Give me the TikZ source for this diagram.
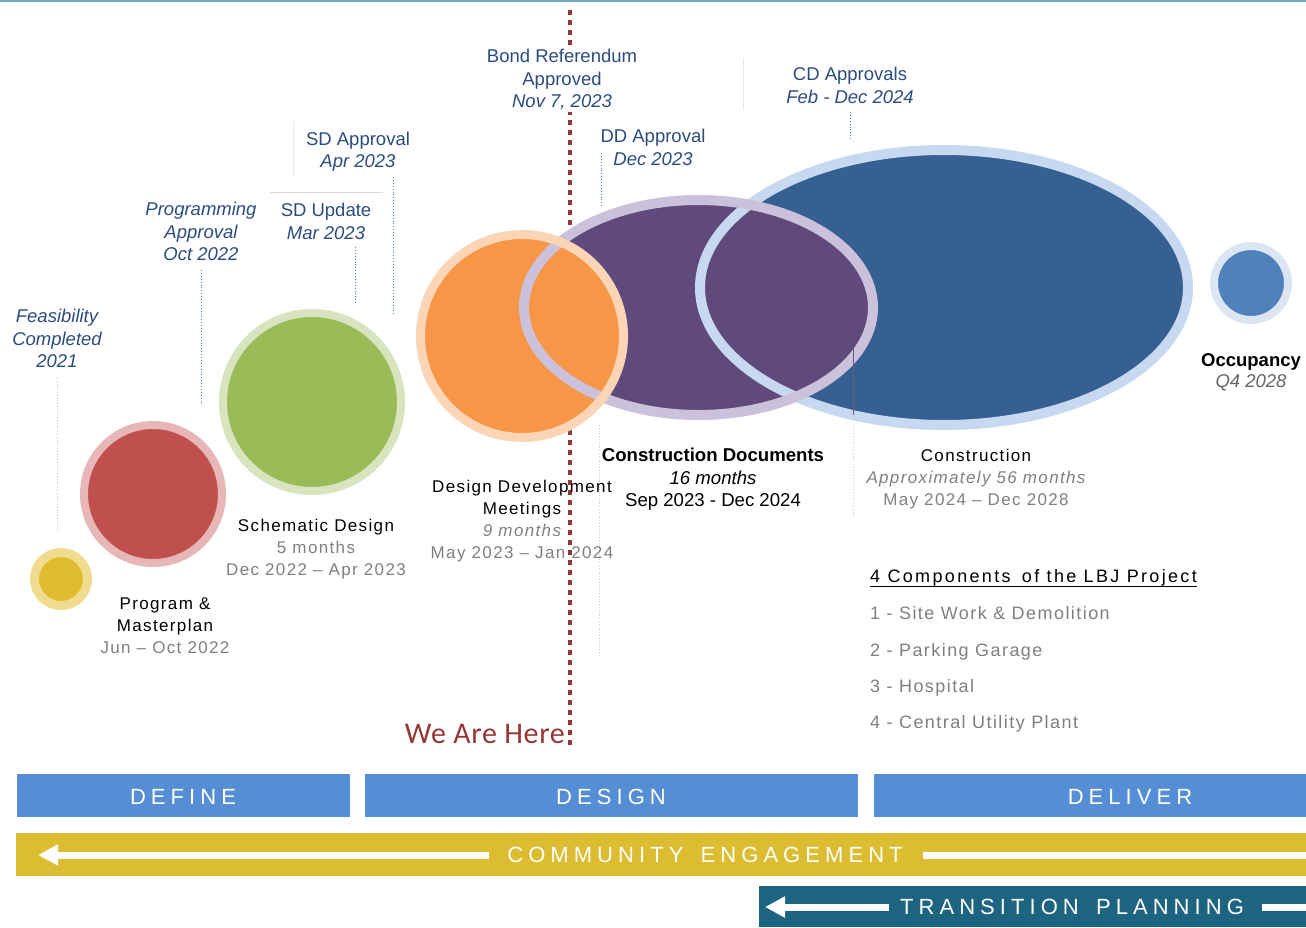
\documentclass[tikz,border=0pt]{standalone}
\usepackage{fontspec}
\setmainfont{Liberation Sans}
\newfontfamily\trackfont[LetterSpace=8]{Liberation Sans}
\newfontfamily\headfont[LetterSpace=13]{Liberation Sans}
\newfontfamily\barfont[LetterSpace=23]{Liberation Sans}
\newfontfamily\herefont[LetterSpace=2]{Carlito}
\usetikzlibrary{arrows.meta}

\definecolor{topline}{HTML}{70A8B8}
\definecolor{milestone}{HTML}{2B4C7E}
\definecolor{leaderblue}{HTML}{4F81BD}
\definecolor{faintgray}{HTML}{D9D9D9}
\definecolor{phasegray}{HTML}{7F7F7F}
\definecolor{herered}{HTML}{953735}
\definecolor{yelIn}{HTML}{DFBB2E}
\definecolor{yelOut}{HTML}{EFDC8F}
\definecolor{redIn}{HTML}{C0504D}
\definecolor{redOut}{HTML}{E6B7B6}
\definecolor{grnIn}{HTML}{9BBB59}
\definecolor{grnOut}{HTML}{D7E4BD}
\definecolor{orgIn}{HTML}{F79646}
\definecolor{orgOut}{HTML}{FBD5B5}
\definecolor{purIn}{HTML}{604A7B}
\definecolor{purOut}{HTML}{CCC1DA}
\definecolor{bluIn}{HTML}{366092}
\definecolor{bluOut}{HTML}{C6D9F1}
\definecolor{occIn}{HTML}{4F81BD}
\definecolor{occOut}{HTML}{DCE6F2}
\definecolor{bandblue}{HTML}{558ED5}
\definecolor{bandyellow}{HTML}{DCBC30}
\definecolor{bandteal}{HTML}{1D6480}

\begin{document}
\begin{tikzpicture}[x=1pt,y=-1pt,
  milestone/.style={text=milestone, font=\fontsize{18.5}{22.5}\selectfont, align=center, inner sep=0pt},
  phase/.style={text=black, font=\trackfont\fontsize{17}{22}\selectfont, align=center, inner sep=0pt},
  cdphase/.style={text=black, font=\fontsize{18.6}{22.5}\selectfont, align=center, inner sep=0pt},
  legend/.style={text=phasegray, font=\trackfont\fontsize{18}{20}\selectfont, anchor=base west, inner sep=0pt},
  leader/.style={draw=leaderblue, dotted, line width=0.9pt},
  faintdot/.style={draw=faintgray!80!gray, dotted, line width=0.8pt},
  faint/.style={draw=faintgray, line width=0.8pt},
  band/.style={text=white, font=\barfont\fontsize{22}{22}\selectfont, inner sep=0pt},
  bandarrow/.style={draw=white, line width=7pt, -{Triangle[width=20pt,length=20pt]}},
  bandline/.style={draw=white, line width=7pt}
]
\useasboundingbox (0,0) rectangle (1306,927);

% thin rule along the top edge
\draw[topline, line width=1.5pt] (0,0.75) -- (1306,0.75);

% "we are here" marker line, behind the phase bubbles
\coordinate (hereTop) at (570,10);
\coordinate (hereBot) at (570,745);
\draw[herered, line width=4pt, dash pattern=on 5pt off 5pt] (hereTop) -- (hereBot);

% phase bubbles: fills first, overlapping right to left
\fill[yelIn] (61,579) circle (26.5);
\fill[redIn] (153,494) circle (69);
\fill[grnIn] (312,402) circle (89);
\fill[bluIn] (944,287.5) ellipse [x radius=244, y radius=137.5];
\fill[purIn] (698.5,307.5) ellipse [x radius=174.5, y radius=107.5];
\fill[orgIn] (522,336) circle (101.5);
\fill[occIn] (1251,283) circle (37);
% bubble rims
\draw[yelOut, line width=9pt] (61,579) circle (26.5);
\draw[redOut, line width=8pt] (153,494) circle (69);
\draw[grnOut, line width=8pt] (312,402) circle (89);
\draw[bluOut, line width=10pt] (944,287.5) ellipse [x radius=244, y radius=137.5];
\draw[purOut, line width=10pt] (698.5,307.5) ellipse [x radius=174.5, y radius=107.5];
\draw[orgOut, line width=9pt] (522,336) circle (101.5);
\draw[occOut, line width=8pt] (1251,283) circle (37);

% milestone labels
\node[milestone] (feas) at (57,338.5) {\itshape Feasibility\\\itshape Completed\\\itshape 2021};
\node[milestone] (prog) at (201,231.5) {\itshape Programming\\\itshape Approval\\\itshape Oct 2022};
\node[milestone] (sdu) at (326,221.5) {SD Update\\\itshape Mar 2023};
\node[milestone] (sda) at (358,151.5) {SD Approval\\\itshape Apr 2023};
\node[milestone, fill=white, inner sep=2pt] (bond) at (562,79.5) {Bond Referendum\\Approved\\\itshape Nov 7, 2023};
\node[milestone] (dda) at (653,147.5) {DD Approval\\\itshape Dec 2023};
\node[milestone] (cda) at (850,85.5) {CD Approvals\\\itshape Feb - Dec 2024};

% milestone leaders and separators
\coordinate (feasA) at (57,378);   \coordinate (feasB) at (57,532);
\coordinate (progA) at (201,270);  \coordinate (progB) at (201,405);
\coordinate (sduA) at (355,247);   \coordinate (sduB) at (355,305);
\coordinate (sdaA) at (393,177);   \coordinate (sdaB) at (393,314);
\coordinate (ddaA) at (601,153);   \coordinate (ddaB) at (601,207);
\coordinate (cdaA) at (850,112);   \coordinate (cdaB) at (850,139);
\draw[faintdot] (feasA) -- (feasB);
\draw[leader] (progA) -- (progB);
\draw[leader] (sduA) -- (sduB);
\draw[leader] (sdaA) -- (sdaB);
\draw[leader] (ddaA) -- (ddaB);
\draw[leader] (cdaA) -- (cdaB);
\coordinate (sepA) at (270,192);   \coordinate (sepB) at (383,192);
\coordinate (sepC) at (293,122);   \coordinate (sepD) at (293,176);
\coordinate (sepE) at (743,58);    \coordinate (sepF) at (743,110);
\draw[faint] (sepA) -- (sepB);
\draw[faint, draw opacity=0.6] (sepC) -- (sepD);
\draw[faint, draw opacity=0.6] (sepE) -- (sepF);

% construction start marker
\coordinate (conA) at (853,347);  \coordinate (conB) at (853,415);
\coordinate (conC) at (853,422);  \coordinate (conD) at (853,520);
\draw[draw=purIn!70!gray, line width=0.8pt] (conA) -- (conB);
\draw[faintdot] (conC) -- (conD);
\coordinate (cdA) at (599,425);  \coordinate (cdB) at (599,657);
\draw[faintdot] (cdA) -- (cdB);

% phase labels
\node[phase] (pm) at (165,626) {Program \&\\Masterplan\\\textcolor{phasegray}{Jun – Oct 2022}};
\node[phase] (sd) at (316,549) {Schematic Design\\\textcolor{phasegray}{5 months}\\\textcolor{phasegray}{Dec 2022 – Apr 2023}};
\node[phase] (ddm) at (522,521.5) {Design Development\\Meetings\\\textcolor{phasegray}{\itshape 9 months}\\\textcolor{phasegray}{May 2023 – Jan 2024}};
\node[cdphase] (cd) at (713,479.5) {\bfseries Construction Documents\\\itshape 16 months\\Sep 2023 - Dec 2024};
\node[phase] (con) at (976,479) {Construction\\\textcolor{phasegray}{\itshape Approximately 56 months}\\\textcolor{phasegray}{May 2024 – Dec 2028}};
\node[cdphase, font=\fontsize{18.5}{21}\selectfont] (occ) at (1251,372) {\bfseries Occupancy\\\textcolor{phasegray!80!black}{\itshape Q4 2028}};

% project components
\node[legend, text=black, font=\headfont\fontsize{18}{20}\selectfont] (leg) at (870,582) {4 Components\hspace{4pt} of the LBJ Project};
\draw[black, line width=0.8pt] ([yshift=-4pt]leg.base west) -- ([yshift=-4pt]leg.base east);
\node[legend] (c1) at (870,619) {1 - Site Work \& Demolition};
\node[legend] (c2) at (870,656) {2 - Parking Garage};
\node[legend] (c3) at (870,692) {3 - Hospital};
\node[legend] (c4) at (870,728) {4 - Central Utility Plant};

% current position
\node[text=herered, font=\herefont\fontsize{30}{30}\selectfont, anchor=east, inner sep=0pt] (here) at (565,734) {We Are Here};

% phase bands
\fill[bandblue] (17,774) rectangle (350,817);
\fill[bandblue] (365,774) rectangle (858,817);
\fill[bandblue] (874,774) rectangle (1306,817);
\node[band] (define) at (183,797) {DEFINE};
\node[band] (design) at (611,797) {DESIGN};
\node[band] (deliver) at (1130,797) {DELIVER};

\fill[bandyellow] (16,833) rectangle (1306,876);
\node[band] (comm) at (705,855) {COMMUNITY\hspace{6pt} ENGAGEMENT};
\coordinate (commTip) at (38,855);
\coordinate (commEnd) at (1306,855);
\draw[bandarrow] ([xshift=-18pt]comm.west) -- (commTip);
\draw[bandline] ([xshift=20pt]comm.east) -- (commEnd);

\fill[bandteal] (759,886) rectangle (1306,927);
\node[band] (trans) at (1072,907) {TRANSITION\hspace{6pt} PLANNING};
\coordinate (transTip) at (765,907);
\coordinate (transEnd) at (1306,907);
\draw[bandarrow] ([xshift=-11pt]trans.west) -- (transTip);
\draw[bandline] ([xshift=18pt]trans.east) -- (transEnd);
\end{tikzpicture}
\end{document}
